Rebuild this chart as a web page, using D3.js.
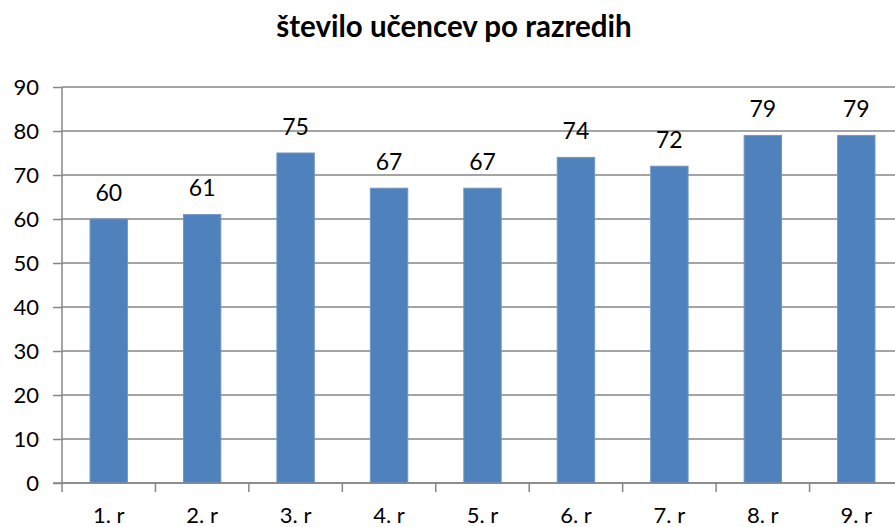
<!DOCTYPE html>
<html>
<head>
<meta charset="utf-8">
<script src="https://cdn.jsdelivr.net/npm/d3@7"></script>
<style>
  body { margin: 0; background: #fff; }
  text { font-family: Lato, "Open Sans", sans-serif; fill: #000; }
  .grid line { stroke: #868686; stroke-width: 1.5; }
  .axis path, .axis line { stroke: #868686; stroke-width: 1.5; }
</style>
</head>
<body>
<div id="chart-area"></div>
<script>
const title = "število učencev po razredih";
const grades = ["1. r", "2. r", "3. r", "4. r", "5. r", "6. r", "7. r", "8. r", "9. r"];
const pupils = [60, 61, 75, 67, 67, 74, 72, 79, 79];
const yTicks = [0, 10, 20, 30, 40, 50, 60, 70, 80, 90];

const chartSize = { width: 895, height: 527 };
const margin = { left: 62, right: -8, top: 87, bottom: 44 };
const width = chartSize.width - margin.left - margin.right;
const height = chartSize.height - margin.top - margin.bottom;

const svg = d3
  .select("#chart-area")
  .append("svg")
  .attr("width", chartSize.width)
  .attr("height", chartSize.height);

svg
  .append("text")
  .attr("x", 454)
  .attr("y", 37)
  .attr("text-anchor", "middle")
  .style("font-weight", "bold")
  .style("font-size", "29.5px")
  .text(title);

const g = svg
  .append("g")
  .attr("transform", `translate(${margin.left}, ${margin.top})`);

const x = d3.scaleBand().domain(grades).range([0, width]).paddingInner(0).paddingOuter(0);
const y = d3.scaleLinear().domain([0, 90]).range([height, 0]);

// horizontal gridlines
g.append("g")
  .attr("class", "grid")
  .selectAll("line")
  .data(yTicks)
  .join("line")
  .attr("x1", 0)
  .attr("x2", width)
  .attr("y1", d => y(d))
  .attr("y2", d => y(d));

// bars
const barW = x.bandwidth() * 0.4;
g.selectAll("rect.bar")
  .data(pupils)
  .join("rect")
  .attr("class", "bar")
  .attr("x", (d, i) => x(grades[i]) + (x.bandwidth() - barW) / 2)
  .attr("y", d => y(d))
  .attr("width", barW)
  .attr("height", d => height - y(d))
  .attr("fill", "#4f81bd")
  .attr("stroke", "#6d97cb")
  .attr("stroke-width", 1);

// data labels
g.selectAll("text.val")
  .data(pupils)
  .join("text")
  .attr("class", "val")
  .attr("x", (d, i) => x(grades[i]) + x.bandwidth() / 2)
  .attr("y", d => y(d) - 18.5)
  .attr("text-anchor", "middle")
  .style("font-size", "23px")
  .text(d => d);

// y axis
const yAxis = g.append("g").attr("class", "axis").call(
  d3.axisLeft(y).tickValues(yTicks).tickSize(9).tickPadding(14)
);
yAxis.select(".domain").attr("d", `M0,${height + 0.5}V0`);
yAxis.selectAll("text").style("font-size", "22px");

// x axis with boundary ticks
const xAxis = g.append("g").attr("class", "axis").attr("transform", `translate(0, ${height})`);
xAxis.append("line").attr("x1", -9).attr("x2", width).attr("y1", 0).attr("y2", 0);
xAxis
  .selectAll("line.tick")
  .data(grades)
  .join("line")
  .attr("class", "tick")
  .attr("x1", d => x(d))
  .attr("x2", d => x(d))
  .attr("y1", 0)
  .attr("y2", 9);
xAxis
  .selectAll("text")
  .data(grades)
  .join("text")
  .attr("x", d => x(d) + x.bandwidth() / 2)
  .attr("y", 40)
  .attr("text-anchor", "middle")
  .style("font-size", "22px")
  .text(d => d);
</script>
</body>
</html>
